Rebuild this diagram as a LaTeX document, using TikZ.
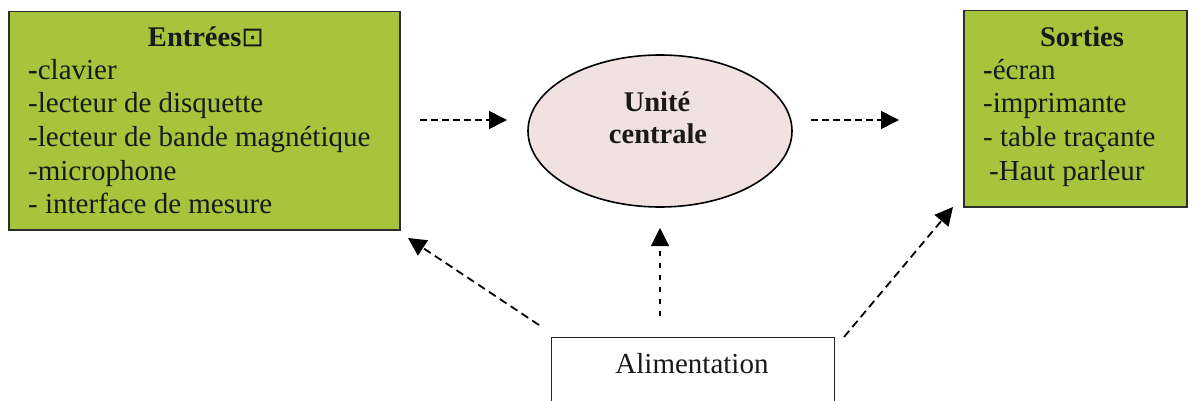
\documentclass[tikz,border=0pt]{standalone}
\usepackage{fontspec}
\setmainfont{Liberation Serif}
\newfontfamily\symfont{DejaVu Sans}
\usetikzlibrary{arrows.meta,shapes.geometric}
\definecolor{boxgreen}{RGB}{166,196,60}
\definecolor{pinkfill}{RGB}{242,225,225}
\definecolor{edgegray}{RGB}{45,45,45}
\begin{document}
\begin{tikzpicture}[x=1pt,y=-1pt,
  greenbox/.style={draw=edgegray, fill=boxgreen, line width=1.5pt, anchor=north west, inner sep=0pt},
  txt/.style={font=\fontsize{29}{33}\selectfont, inner sep=0pt, anchor=base west, text=black!90},
  ttl/.style={font=\fontsize{28.5}{33}\selectfont\bfseries, inner sep=0pt, anchor=base, text=black!90},
  dasharrow/.style={line width=1.6pt, -{Triangle[length=18pt,width=18pt]}},
  ]
\useasboundingbox (0,0) rectangle (1197,401);
\clip (0,0) rectangle (1197,401);

% Entrees box
\node[greenbox, minimum width=391pt, minimum height=218pt] (entrees) at (8,11) {};
\node[ttl] (etitle) at (206,47) {Entrées{\mdseries\symfont\fontsize{27}{27}\selectfont ⊡}};
\node[txt] (e1) at (28,80) {{\bfseries -}clavier};
\node[txt] (e2) at (28,113) {-lecteur de disquette};
\node[txt] (e3) at (28,147) {-lecteur de bande magnétique};
\node[txt] (e4) at (28,180) {-microphone};
\node[txt] (e5) at (28,213) {- interface de mesure};

% Sorties box
\node[greenbox, minimum width=223pt, minimum height=196pt] (sorties) at (963,10) {};
\node[ttl] (stitle) at (1082,47) {Sorties};
\node[txt] (s1) at (983,80) {{\bfseries -}écran};
\node[txt] (s2) at (983,113) {-imprimante};
\node[txt] (s3) at (983,147) {- table traçante};
\node[txt] (s4) at (989,180) {-Haut parleur};

% Unite centrale
\node[ellipse, draw=black, fill=pinkfill, line width=1.6pt, minimum width=264pt, minimum height=152pt, inner sep=0pt] (uc) at (660,131) {};
\node[ttl] (uc1) at (657,112) {Unité};
\node[ttl] (uc2) at (658,143) {centrale};

% Alimentation
\node[draw=black!85, line width=1.3pt, minimum width=283pt, minimum height=100pt, anchor=north west, inner sep=0pt] (alim) at (551,337) {};
\node[txt, anchor=base] (alimtxt) at (692,373) {Alimentation};

% arrow end points
\coordinate (a1s) at (420,120); \coordinate (a1e) at (507,120);
\coordinate (a2s) at (811,120); \coordinate (a2e) at (899,120);
\coordinate (a3s) at (539,325); \coordinate (a3e) at (408,238);
\coordinate (a4s) at (660,316); \coordinate (a4e) at (660,228);
\coordinate (a5s) at (844,337); \coordinate (a5e) at (953,207);

\draw[dasharrow, dash pattern=on 7pt off 4pt] (a1s) -- (a1e);
\draw[dasharrow, dash pattern=on 7pt off 4pt] (a2s) -- (a2e);
\draw[dasharrow, line width=1.8pt, dash pattern=on 8pt off 5pt] (a3s) -- (a3e);
\draw[dasharrow, line width=1.1pt, dash pattern=on 5pt off 7pt] (a4s) -- (a4e);
\draw[dasharrow, line width=1.8pt, dash pattern=on 8pt off 5pt] (a5s) -- (a5e);
\end{tikzpicture}
\end{document}
